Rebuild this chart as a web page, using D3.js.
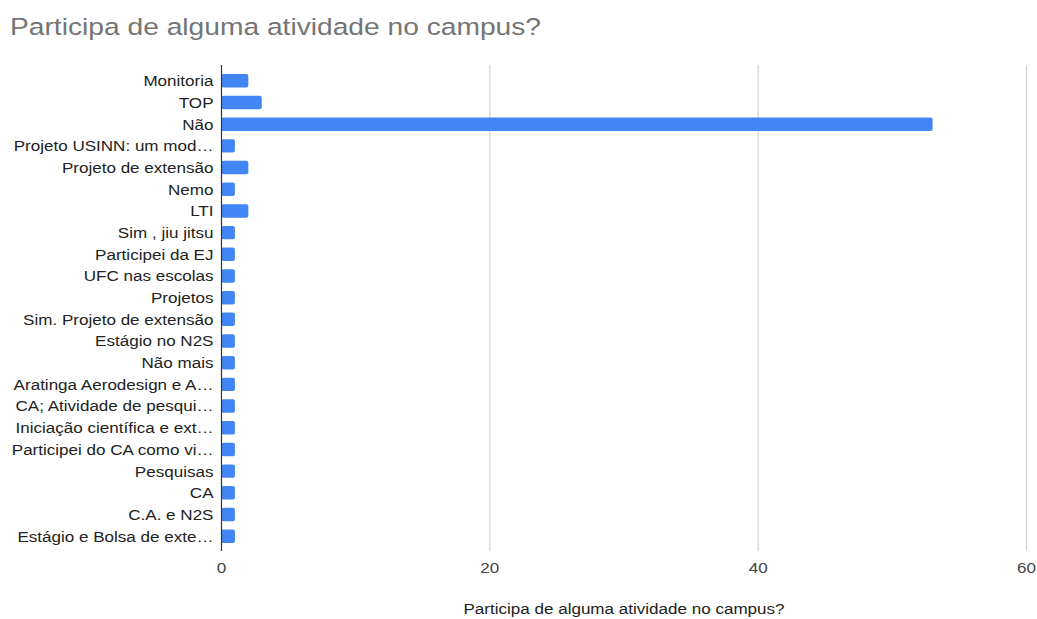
<!DOCTYPE html>
<html>
<head>
<meta charset="utf-8">
<script src="https://cdn.jsdelivr.net/npm/d3@7"></script>
<style>
  html, body { margin: 0; padding: 0; background: #fff; }
  svg { display: block; font-family: "Liberation Sans", Arial, sans-serif; }
</style>
</head>
<body>
<svg id="chart" width="1037" height="619"></svg>
<script>
// Responses to "Participa de alguma atividade no campus?"
const categories = [
  "Monitoria", "TOP", "Não", "Projeto USINN: um mod…", "Projeto de extensão",
  "Nemo", "LTI", "Sim , jiu jitsu", "Participei da EJ", "UFC nas escolas",
  "Projetos", "Sim. Projeto de extensão", "Estágio no N2S", "Não mais",
  "Aratinga Aerodesign e A…", "CA; Atividade de pesqui…", "Iniciação científica e ext…",
  "Participei do CA como vi…", "Pesquisas", "CA", "C.A. e N2S", "Estágio e Bolsa de exte…"
];
const counts = [2, 3, 53, 1, 2, 1, 2, 1, 1, 1, 1, 1, 1, 1, 1, 1, 1, 1, 1, 1, 1, 1];
const xTicks = [0, 20, 40, 60];
const chartTitle = "Participa de alguma atividade no campus?";
const axisTitle = "Participa de alguma atividade no campus?";

const svg = d3.select("#chart");
const plotLeft = 221.5, plotRight = 1026.5, plotTop = 65, plotBottom = 551;
const textStretch = 1.137;   // text is set slightly wide

const x = d3.scaleLinear().domain([0, 60]).range([plotLeft, plotRight]);
const y = d3.scaleBand().domain(categories).range([70, 547]).paddingInner(0.38).paddingOuter(0.19);

// Title
svg.append("text")
  .attr("transform", `translate(10,35) scale(1.2,1)`)
  .attr("font-size", 23.5)
  .attr("fill", "#757575")
  .text(chartTitle);

// Vertical gridlines
svg.append("g")
  .selectAll("line")
  .data(xTicks.filter(d => d !== 0))
  .join("line")
  .attr("x1", d => x(d)).attr("x2", d => x(d))
  .attr("y1", plotTop).attr("y2", plotBottom)
  .attr("stroke", "#cccccc").attr("stroke-width", 1);

// Bars
svg.append("g")
  .selectAll("rect")
  .data(categories)
  .join("rect")
  .attr("x", x(0))
  .attr("y", d => y(d))
  .attr("width", (d, i) => x(counts[i]) - x(0))
  .attr("height", y.bandwidth())
  .attr("rx", 2).attr("ry", 2)
  .attr("fill", "#4285f4");

// Baseline
svg.append("line")
  .attr("x1", x(0)).attr("x2", x(0))
  .attr("y1", plotTop).attr("y2", plotBottom)
  .attr("stroke", "#333").attr("stroke-width", 1.2);

// Category labels
svg.append("g")
  .selectAll("text")
  .data(categories)
  .join("text")
  .attr("transform", d => `translate(${plotLeft - 8},${y(d) + y.bandwidth() / 2}) scale(${textStretch},1)`)
  .attr("dy", "0.36em")
  .attr("text-anchor", "end")
  .attr("font-size", 15)
  .attr("fill", "#222")
  .text(d => d);

// X tick labels
svg.append("g")
  .selectAll("text")
  .data(xTicks)
  .join("text")
  .attr("transform", d => `translate(${x(d)},573) scale(${textStretch},1)`)
  .attr("text-anchor", "middle")
  .attr("font-size", 15)
  .attr("fill", "#444")
  .text(d => d);

// Axis title
svg.append("text")
  .attr("transform", `translate(${(plotLeft + plotRight) / 2},614) scale(${textStretch},1)`)
  .attr("text-anchor", "middle")
  .attr("font-size", 15)
  .attr("fill", "#222")
  .text(axisTitle);
</script>
</body>
</html>
